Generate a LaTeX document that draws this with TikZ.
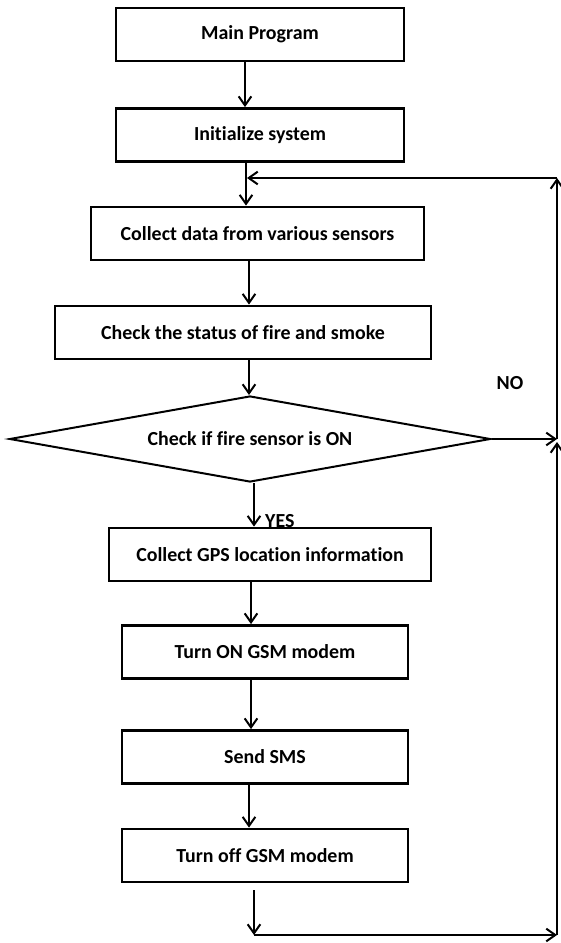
\documentclass[tikz,border=0pt]{standalone}
\usepackage{fontspec}
\setmainfont{Carlito}[Ligatures=NoCommon]
\usetikzlibrary{arrows.meta,shapes.geometric,calc}

\begin{document}
\begin{tikzpicture}[x=0.03cm, y=-0.03cm,
    txt/.style={font=\fontsize{17}{20}\selectfont\bfseries},
    box/.style={txt, draw, line width=2.4pt, minimum height=1.59cm, inner sep=0pt},
    decide/.style={txt, draw, diamond, aspect=5.6, line width=1.7pt, inner sep=0pt,
                   minimum width=14.43cm, minimum height=2.58cm},
    arr/.style={line width=1.7pt, -{Straight Barb[length=0.27cm, width=0.38cm, line width=1.7pt]}},
    ln/.style={line width=1.7pt}]
  \useasboundingbox (0,0) rectangle (561,943);

  \node[box, minimum width=8.64cm] (main) at (260,34.5) {Main Program};
  \node[box, minimum width=8.64cm] (init) at (260,135) {Initialize system};
  \node[box, minimum width=9.99cm] (collect) at (257.5,233.5) {Collect data from various sensors};
  \node[box, minimum width=11.28cm] (status) at (243,332.5) {Check the status of fire and smoke};
  \node[decide] (dia) at (250,439) {Check if fire sensor is ON};
  \node[box, minimum width=9.66cm] (gps) at (270,554.5) {Collect GPS location information};
  \node[box, minimum width=8.58cm] (gsmon) at (265,652) {Turn ON GSM modem};
  \node[box, minimum width=8.58cm] (sms) at (265,757) {Send SMS};
  \node[box, minimum width=8.58cm] (gsmoff) at (265,855.5) {Turn off GSM modem};

  \node[txt, anchor=base west, inner sep=0pt] (yes) at (265,527) {YES};
  \node[txt, inner sep=0pt] (no) at (510,383) {NO};

  \coordinate (bl) at (254,935);
  \coordinate (br) at (557,935);
  \coordinate (rb) at (557,442);
  \coordinate (rm) at (557,439);
  \coordinate (tr) at (557,178);
  \coordinate (tl) at (247,178);

  \draw[arr] ($(main.south)+(-15,0)$) -- ($(init.north)+(-15,0)$);
  \draw[arr] ($(init.south)+(-14,0)$) -- ($(collect.north)+(-11.5,0)$);
  \draw[arr] ($(collect.south)+(-8.5,0)$) -- ($(status.north)+(6,0)$);
  \draw[arr] ($(status.south)+(6,0)$) -- ($(dia.north)+(-1,0)$);
  \draw[arr] ($(dia.south)+(4,0)$) -- ($(gps.north)+(-16,0)$);
  \draw[arr] ($(gps.south)+(-19,0)$) -- ($(gsmon.north)+(-14,0)$);
  \draw[arr] ($(gsmon.south)+(-14,0)$) -- ($(sms.north)+(-14,0)$);
  \draw[arr] ($(sms.south)+(-16,0)$) -- ($(gsmoff.north)+(-16,0)$);
  \draw[arr] ($(gsmoff.south)+(-11,7)$) -- (bl);

  \draw[ln] (bl) -- ($(bl)+(1,0)$);
  \draw[arr] (bl) -- (br);
  \draw[arr] (br) -- (rb);
  \draw[arr] (dia.east) -- (rm);
  \draw[arr] (rm) -- (tr);
  \draw[arr] (tr) -- (tl);
\end{tikzpicture}
\end{document}
